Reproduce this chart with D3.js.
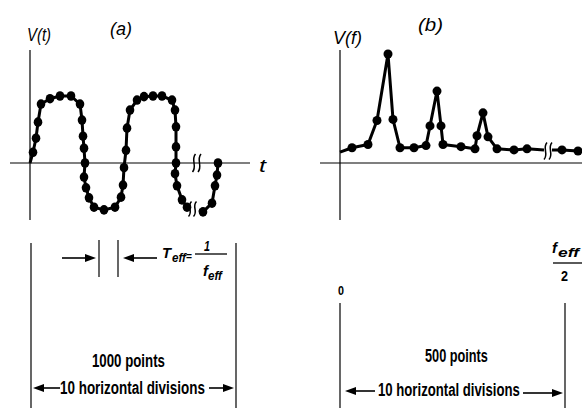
<!DOCTYPE html>
<html><head><meta charset="utf-8">
<script src="https://cdn.jsdelivr.net/npm/d3@7"></script>
<style>body{margin:0;background:#fff}svg{display:block}</style>
</head><body>
<script>
// ---- data (time record, panel a) ----
const waveT1 = [0,1.5,3,4,5.5,10,15,20.5,25,26,26.5,27,27.5,27,28,29.5,32,37,42.5,45.5,46.5,47,48,48.5,50,53.5,57,61.5,66,71,72.5,73,73,73,72.5,73.5,76,78.5];
const waveV1 = [0,0.16,0.37,0.61,0.88,0.96,1,1,0.88,0.64,0.40,0.22,0,-0.21,-0.37,-0.52,-0.66,-0.70,-0.66,-0.51,-0.33,-0.07,0.19,0.52,0.79,0.94,0.99,1,1,0.94,0.79,0.54,0.24,0,-0.16,-0.34,-0.55,-0.66];
const waveT2 = [84.5,86.5,91,92.5,93.5,94];
const waveV2 = [-0.70,-0.73,-0.60,-0.34,-0.18,0];
// ---- data (spectrum, panel b) ----
const specF1 = [0,6,14,18.5,24,26.5,30,37,43,45,48.5,50.5,51.5,60.5,67.5,68.5,71.5,74,78.5,87,93.5,102];
const specV1 = [0.10,0.14,0.17,0.39,1.0,0.40,0.14,0.14,0.16,0.34,0.66,0.34,0.17,0.15,0.13,0.25,0.46,0.24,0.13,0.12,0.13,0.12];
const specF2 = [106,111,119,121];
const specV2 = [0.12,0.12,0.11,0.11];
// ---- labels ----
const labelsA = {y:"V(t)", title:"(a)", x:"t", points:"1000 points", divs:"10 horizontal divisions"};
const labelsB = {y:"V(f)", title:"(b)", zero:"0", points:"500 points", divs:"10 horizontal divisions"};

const W=582,H=408;
const svg=d3.select("body").append("svg").attr("width",W).attr("height",H);
const FF="'Liberation Sans Narrow','Arial Narrow','Liberation Sans',Arial,sans-serif";

const xA=d3.scaleLinear().domain([0,110]).range([30,250]);
const yA=d3.scaleLinear().domain([-1,1]).range([230,96]);
const xB=d3.scaleLinear().domain([0,121]).range([340,582]);
const yB=d3.scaleLinear().domain([0,1]).range([163,54]);

function hline(x1,x2,y,w){svg.append("line").attr("x1",x1).attr("x2",x2).attr("y1",y).attr("y2",y).attr("stroke","#000").attr("stroke-width",w||1);}
function vline(x,y1,y2,w){svg.append("line").attr("x1",x).attr("x2",x).attr("y1",y1).attr("y2",y2).attr("stroke","#000").attr("stroke-width",w||1);}
function text(s,x,y,size,opts){
  opts=opts||{};
  const t=svg.append("text").attr("x",0).attr("y",0).text(s)
   .attr("font-family",FF).attr("font-size",size)
   .attr("font-weight",opts.weight||"bold")
   .attr("font-style",opts.italic?"italic":"normal")
   .attr("fill","#000");
  let sx=1;
  if(opts.len){const nat=t.node().getComputedTextLength(); if(nat>0) sx=opts.len/nat;}
  t.attr("transform",`translate(${x},${y}) scale(${sx},1)`);
  return t;
}
function arrow(xTail,xTip,y){
  const dir=Math.sign(xTip-xTail);
  const hl=11, hw=4;
  svg.append("line").attr("x1",xTail).attr("x2",xTip-dir*hl).attr("y1",y).attr("y2",y).attr("stroke","#000").attr("stroke-width",1.6);
  svg.append("path").attr("d",`M${xTip},${y} L${xTip-dir*hl},${y-hw} L${xTip-dir*hl},${y+hw} Z`).attr("fill","#000");
}
function squiggle(cx,cy,h){
  const p=`M${cx+1.5},${cy-h/2} C${cx-3.5},${cy-h/6} ${cx+3.5},${cy+h/6} ${cx-1.5},${cy+h/2}`;
  svg.append("path").attr("d",p).attr("fill","none").attr("stroke","#000").attr("stroke-width",1.5);
}

// ----- panel a -----
vline(xA(0),50,220,1.2);
hline(10,250,yA(0),1.2);
const lineA=d3.line().x(d=>xA(d[0])).y(d=>yA(d[1]));
const segA1=waveT1.map((t,i)=>[t,waveV1[i]]);
const segA2=waveT2.map((t,i)=>[t,waveV2[i]]);
[segA1,segA2].forEach(seg=>{
  svg.append("path").attr("d",lineA(seg)).attr("fill","none").attr("stroke","#000").attr("stroke-width",3).attr("stroke-linejoin","round");
  svg.selectAll(null).data(seg.slice(1)).enter().append("ellipse")
    .attr("cx",d=>xA(d[0])).attr("cy",d=>yA(d[1])).attr("rx",4.3).attr("ry",4.8).attr("fill","#000");
});
squiggle(194,163,18);squiggle(199.5,163,18);
squiggle(190,209,15);squiggle(195,209,15);

text(labelsA.y,27,41,18,{italic:true,weight:"normal",len:24});
text(labelsA.title,110,35,18,{italic:true,weight:"normal",len:22});
text(labelsA.x,259,172,18,{italic:true,weight:"normal",len:7});

// ----- panel b -----
vline(xB(0),50,220,1.2);
hline(320,582,yB(0),1.2);
const lineB=d3.line().x(d=>xB(d[0])).y(d=>yB(d[1]));
const segB1=specF1.map((f,i)=>[f,specV1[i]]);
const segB2=specF2.map((f,i)=>[f,specV2[i]]);
[segB1,segB2].forEach(seg=>{
  svg.append("path").attr("d",lineB(seg)).attr("fill","none").attr("stroke","#000").attr("stroke-width",3).attr("stroke-linejoin","round");
  svg.selectAll(null).data(seg.slice(1,-1)).enter().append("circle")
    .attr("cx",d=>xB(d[0])).attr("cy",d=>yB(d[1])).attr("r",4.5).attr("fill","#000");
});
squiggle(545.5,151,17);squiggle(550.5,151,17);

text(labelsB.y,333,44,18,{italic:true,weight:"normal",len:29});
text(labelsB.title,418,31,18,{italic:true,weight:"normal",len:25});

// ----- lower annotations, panel a -----
vline(31,243,408,1.2);
vline(236,243,408,1.2);
vline(99,240,277,1.2);
vline(118,240,277,1.2);
arrow(62,96,258);
arrow(157,123,258);
text("T",162,258,14,{italic:true,len:9});
text("eff",172,262,12,{italic:true,len:14});
text("=",186,260,11,{len:6});
text("1",204,251,14,{italic:true,len:6});
hline(195,227,254,1.3);
text("f",203,276,14,{italic:true,len:5});
text("eff",208,280,12,{italic:true,len:14});
text(labelsA.points,92,367,19,{len:73});
text(labelsA.divs,60,394,19,{len:145});
arrow(60,33,388);
arrow(209,234,388);

// ----- lower annotations, panel b -----
text(labelsB.zero,338,295,12,{len:6});
vline(340,303,408,1.2);
vline(565,303,408,1.2);
text("f",552,253,14,{italic:true,len:5});
text("eff",558,257,12,{italic:true,len:21});
hline(553,582,263,1.3);
text("2",561,281,14,{len:7});
text(labelsB.points,425,362,19,{len:63});
text(labelsB.divs,378,396,19,{len:142});
arrow(375,345,391);
arrow(523,563,393);
</script>
</body></html>
